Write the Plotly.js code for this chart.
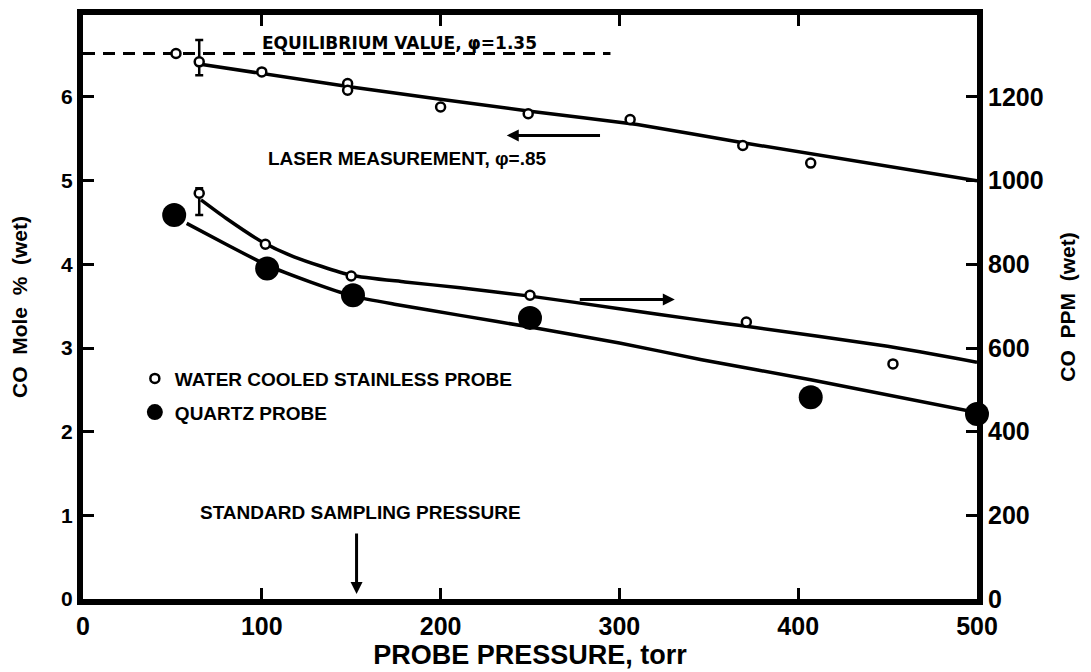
<!DOCTYPE html>
<html>
<head>
<meta charset="utf-8">
<script src="https://cdn.plot.ly/plotly-3.0.1.min.js"></script>
<style>html,body{margin:0;padding:0;background:#fff;}#chart{width:1091px;height:672px;}</style>
</head>
<body>
<div id="chart"></div>
<script>
// ---- Data ----
// Upper set (laser measurement region), read on the left axis (CO mole %)
const laserPressure = [52, 65, 100, 148, 148, 200, 249, 306, 369, 407];
const laserCoMole   = [6.52, 6.42, 6.30, 6.16, 6.08, 5.88, 5.80, 5.73, 5.42, 5.21];
const laserErrPlus  = [0, 0.26, 0, 0, 0, 0, 0, 0, 0, 0];
const laserErrMinus = [0, 0.16, 0, 0, 0, 0, 0, 0, 0, 0];
const laserFitPressure = [63, 150, 250, 310, 370, 500];
const laserFitCoMole   = [6.40, 6.12, 5.83, 5.67, 5.45, 5.00];

// Equilibrium value line (left axis)
const equilibriumPressure = [0, 295];
const equilibriumCoMole   = [6.52, 6.52];

// Lower sets, read on the right axis (CO PPM)
const waterPressure = [65, 102, 150, 250, 371, 453];
const waterCoPpm    = [970, 848, 772, 726, 662, 562];
const waterErrPlus  = [12, 0, 0, 0, 0, 0];
const waterErrMinus = [52, 0, 0, 0, 0, 0];
const waterFitPressure = [66, 80, 100, 118, 150, 180, 211, 250, 300, 346, 371, 450, 500];
const waterFitCoPpm    = [954, 910, 854, 818, 774, 758, 744, 724, 694, 666, 652, 604, 566];

const quartzPressure = [51, 103, 151, 250, 407, 500];
const quartzCoPpm    = [918, 790, 726, 672, 482, 442];
const quartzFitPressure = [58, 80, 103, 127, 151, 175, 211, 250, 300, 346, 407, 500];
const quartzFitCoPpm    = [898, 848, 798, 758, 724, 704, 678, 650, 612, 572, 524, 446];

// Ticks
const xTicks = [0, 100, 200, 300, 400, 500];
const yTicks = [0, 1, 2, 3, 4, 5, 6];
const y2Ticks = [0, 200, 400, 600, 800, 1000, 1200];

const FONT = "Liberation Sans, Arial, Helvetica, sans-serif";
const black = "#000";

const traces = [
  {x: equilibriumPressure, y: equilibriumCoMole, mode: "lines", yaxis: "y",
   line: {color: black, width: 3, dash: "12px,8px"}, showlegend: false, hoverinfo: "skip"},
  {x: laserFitPressure, y: laserFitCoMole, mode: "lines", yaxis: "y",
   line: {color: black, width: 3.5, shape: "spline", smoothing: 0.4}, showlegend: false, hoverinfo: "skip"},
  {x: waterFitPressure, y: waterFitCoPpm, mode: "lines", yaxis: "y2",
   line: {color: black, width: 3.5, shape: "spline", smoothing: 0.6}, showlegend: false, hoverinfo: "skip"},
  {x: quartzFitPressure, y: quartzFitCoPpm, mode: "lines", yaxis: "y2",
   line: {color: black, width: 3.5, shape: "spline", smoothing: 0.6}, showlegend: false, hoverinfo: "skip"},
  {x: laserPressure, y: laserCoMole, mode: "markers", yaxis: "y", name: "Laser measurement",
   marker: {symbol: "circle", size: 9, color: "#fff", line: {color: black, width: 2.5}},
   error_y: {type: "data", symmetric: false, array: laserErrPlus, arrayminus: laserErrMinus,
             color: black, thickness: 2.5, width: 4},
   showlegend: false, cliponaxis: false},
  {x: waterPressure, y: waterCoPpm, mode: "markers", yaxis: "y2", name: "WATER COOLED STAINLESS PROBE",
   marker: {symbol: "circle", size: 9, color: "#fff", line: {color: black, width: 2.5}},
   error_y: {type: "data", symmetric: false, array: waterErrPlus, arrayminus: waterErrMinus,
             color: black, thickness: 2.5, width: 4},
   legendgroup: "a", cliponaxis: false},
  {x: quartzPressure, y: quartzCoPpm, mode: "markers", yaxis: "y2", name: "QUARTZ PROBE",
   marker: {symbol: "circle", size: 24, color: black, line: {width: 0}},
   legendgroup: "b", cliponaxis: false}
];

const annFont = {family: FONT, size: 19, color: black, weight: "bold"};
const annotations = [
  {x: 177, y: 6.64, xref: "x", yref: "y", text: "EQUILIBRIUM VALUE, φ=1.35", showarrow: false,
   font: {family: "DejaVu Sans, sans-serif", size: 17, color: black, weight: "bold"}},
  {x: 181, y: 5.27, xref: "x", yref: "y", text: "LASER MEASUREMENT, φ=.85", showarrow: false, font: annFont},
  {x: 155, y: 1.03, xref: "x", yref: "y", text: "STANDARD SAMPLING PRESSURE", showarrow: false, font: annFont},
  // arrow pointing to the left axis (upper curve)
  {x: 237, y: 5.54, ax: 290, ay: 5.54, xref: "x", yref: "y", axref: "x", ayref: "y", text: "",
   showarrow: true, arrowhead: 2, arrowsize: 0.8, arrowwidth: 3, arrowcolor: black},
  // arrow pointing to the right axis (lower curves)
  {x: 331, y: 716, ax: 277, ay: 716, xref: "x", yref: "y2", axref: "x", ayref: "y2", text: "",
   showarrow: true, arrowhead: 2, arrowsize: 0.8, arrowwidth: 3, arrowcolor: black},
  // standard sampling pressure arrow
  {x: 153, y: 0.06, ax: 153, ay: 0.80, xref: "x", yref: "y", axref: "x", ayref: "y", text: "",
   showarrow: true, arrowhead: 2, arrowsize: 0.8, arrowwidth: 3, arrowcolor: black}
];

const layout = {
  width: 1091, height: 672,
  margin: {l: 83, r: 114, t: 15, b: 73},
  paper_bgcolor: "#fff", plot_bgcolor: "#fff",
  font: {family: FONT, color: black},
  showlegend: true,
  legend: {x: 0.058, y: 0.41, xanchor: "left", yanchor: "top", bgcolor: "rgba(0,0,0,0)",
           font: {family: FONT, size: 19, color: black, weight: "bold"}, tracegroupgap: 6,
           itemsizing: "trace"},
  xaxis: {range: [0, 500], tickvals: xTicks, ticktext: xTicks.map(String), ticks: "inside",
          ticklen: 11, tickwidth: 3, tickcolor: black, showline: true, linewidth: 6, linecolor: black,
          mirror: "ticks", showgrid: false, zeroline: false,
          tickfont: {family: FONT, size: 25, color: black, weight: "bold"},
          title: {text: "PROBE PRESSURE, torr", standoff: 4,
                  font: {family: FONT, size: 27, color: black, weight: "bold"}}},
  yaxis: {range: [0, 6.98], tickvals: yTicks, ticktext: yTicks.map(String), ticks: "inside",
          ticklen: 11, tickwidth: 3, tickcolor: black, showline: true, linewidth: 6, linecolor: black,
          mirror: false, showgrid: false, zeroline: false,
          tickfont: {family: FONT, size: 21, color: black, weight: "bold"},
          title: {text: "CO  Mole  %  (wet)", standoff: 30,
                  font: {family: FONT, size: 21, color: black, weight: "bold"}}},
  yaxis2: {range: [0, 1396], tickvals: y2Ticks, ticktext: y2Ticks.map(String), ticks: "inside",
           overlaying: "y", side: "right",
           ticklen: 11, tickwidth: 3, tickcolor: black, showline: true, linewidth: 6, linecolor: black,
           showgrid: false, zeroline: false,
           tickfont: {family: FONT, size: 25, color: black, weight: "bold"},
           title: {text: "CO  PPM  (wet)", standoff: 20,
                   font: {family: FONT, size: 21, color: black, weight: "bold"}}},
  annotations: annotations
};

Plotly.newPlot("chart", traces, layout, {staticPlot: true, displayModeBar: false});
</script>
</body>
</html>
